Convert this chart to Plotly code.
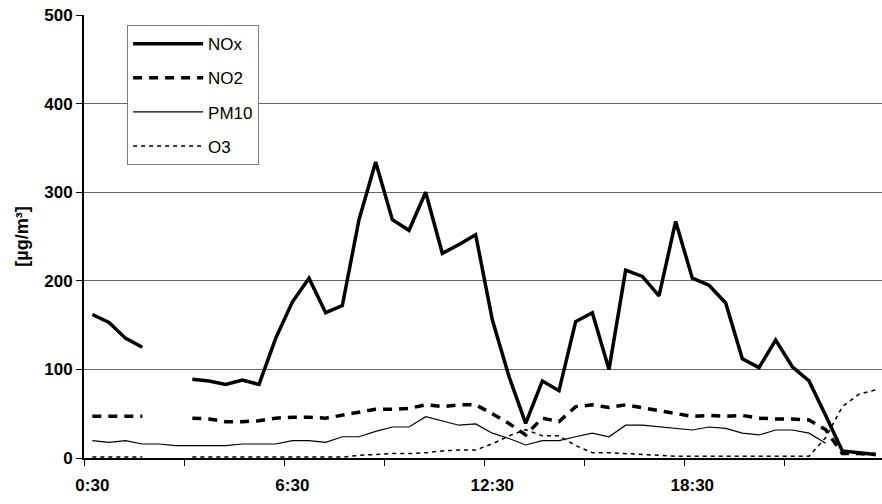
import plotly.graph_objects as go

# Half-hourly time labels 0:30 ... 24:00
times = [f"{(m // 60)}:{m % 60:02d}" for m in range(30, 24 * 60 + 1, 30)]

nox = [162, 153, 135, 125, None, None, 89, 87, 83, 88, 83, 135,
       176, 203, 164, 172, 269, 334, 269, 257, 300, 231, 241, 252,
       156, 92, 39, 87, 76, 154, 164, 100, 212, 205, 183, 267,
       203, 195, 175, 112, 102, 133, 103, 87, 48, 8, 6, 4]

no2 = [47, 47, 47, 47, None, None, 45, 44, 41, 41, 42, 45,
       46, 46, 45, 48, 52, 55, 55, 56, 60, 58, 60, 60,
       50, 39, 26, 45, 41, 58, 60, 57, 60, 57, 54, 50,
       47, 48, 47, 48, 45, 44, 44, 43, 32, 5, 5, 4]

pm10 = [19.6, 17.7, 19.6, 15.8, 15.8, 14, 14, 14, 14, 15.8, 15.8, 15.8,
        19.6, 19.6, 17.7, 24, 24, 30, 35, 35, 46.6, 42, 37, 38.5,
        28, 22, 14.7, 19.6, 19.6, 24, 28, 24, 37, 37, 35, 33.5,
        31.6, 35, 33.5, 28, 26, 31.6, 31.6, 28, 16.6, None, None, None]

o3 = [1, 1, 1, 1, None, None, 1, 1, 1, 1, 1, 1,
      1, 1, 1, 1, 3, 4, 5, 5, 6, 8, 9, 9,
      16, 25, 32, 25, 25, 14, 6, 6, 5, 4, 3, 2,
      2, 2, 2, 2, 2, 2, 2, 2, 23, 58, 72, 77]

label_every = 12
tick_every = 6

xs = list(range(len(times)))
FONT = "Arial, Liberation Sans, sans-serif"

fig = go.Figure()
series = [
    ("NOx", nox, dict(color="black", width=3.5, dash="solid")),
    ("NO2", no2, dict(color="black", width=3.5, dash="9px,7px")),
    ("PM10", pm10, dict(color="black", width=1.2, dash="solid")),
    ("O3", o3, dict(color="black", width=1.5, dash="4px,4px")),
]
for name, vals, line in series:
    fig.add_trace(go.Scatter(x=xs, y=vals, name=name, mode="lines",
                             line=line, connectgaps=False, legendgroup=name))

n = len(times)
fig.update_layout(
    width=882, height=504,
    margin=dict(l=84, r=0, t=15, b=46),
    paper_bgcolor="white", plot_bgcolor="white",
    font=dict(family=FONT, color="black"),
    showlegend=True,
    legend=dict(
        x=0.054, y=0.977, xanchor="left", yanchor="top",
        bgcolor="white", bordercolor="#808080", borderwidth=1,
        font=dict(size=17, family=FONT, color="black"),
        itemwidth=70, tracegroupgap=9,
    ),
    xaxis=dict(
        range=[-0.5, n - 0.5 - 2 / 16.667],
        tickmode="array",
        tickvals=list(range(0, n, label_every)),
        ticktext=[times[i] for i in range(0, n, label_every)],
        ticks="", showgrid=False, zeroline=False,
        showline=True, linecolor="black", linewidth=2,
        tickfont=dict(size=17, family=FONT, color="black", weight="bold"),
        ticklabelstandoff=11,
        minor=dict(ticks="outside", tick0=-0.5, dtick=tick_every,
                   ticklen=6, tickcolor="black", tickwidth=1, showgrid=False),
    ),
    yaxis=dict(
        range=[0, 500], tickvals=[0, 100, 200, 300, 400, 500],
        ticks="outside", ticklen=6, tickcolor="black",
        showgrid=True, gridcolor="#666666", gridwidth=1,
        zeroline=False,
        showline=True, linecolor="black", linewidth=2,
        tickfont=dict(size=17, family=FONT, color="black", weight="bold"),
        title=dict(text="[µg/m³]", standoff=11,
                   font=dict(size=18, family=FONT, color="black", weight="bold")),
    ),
)

fig.write_html("out.html")
